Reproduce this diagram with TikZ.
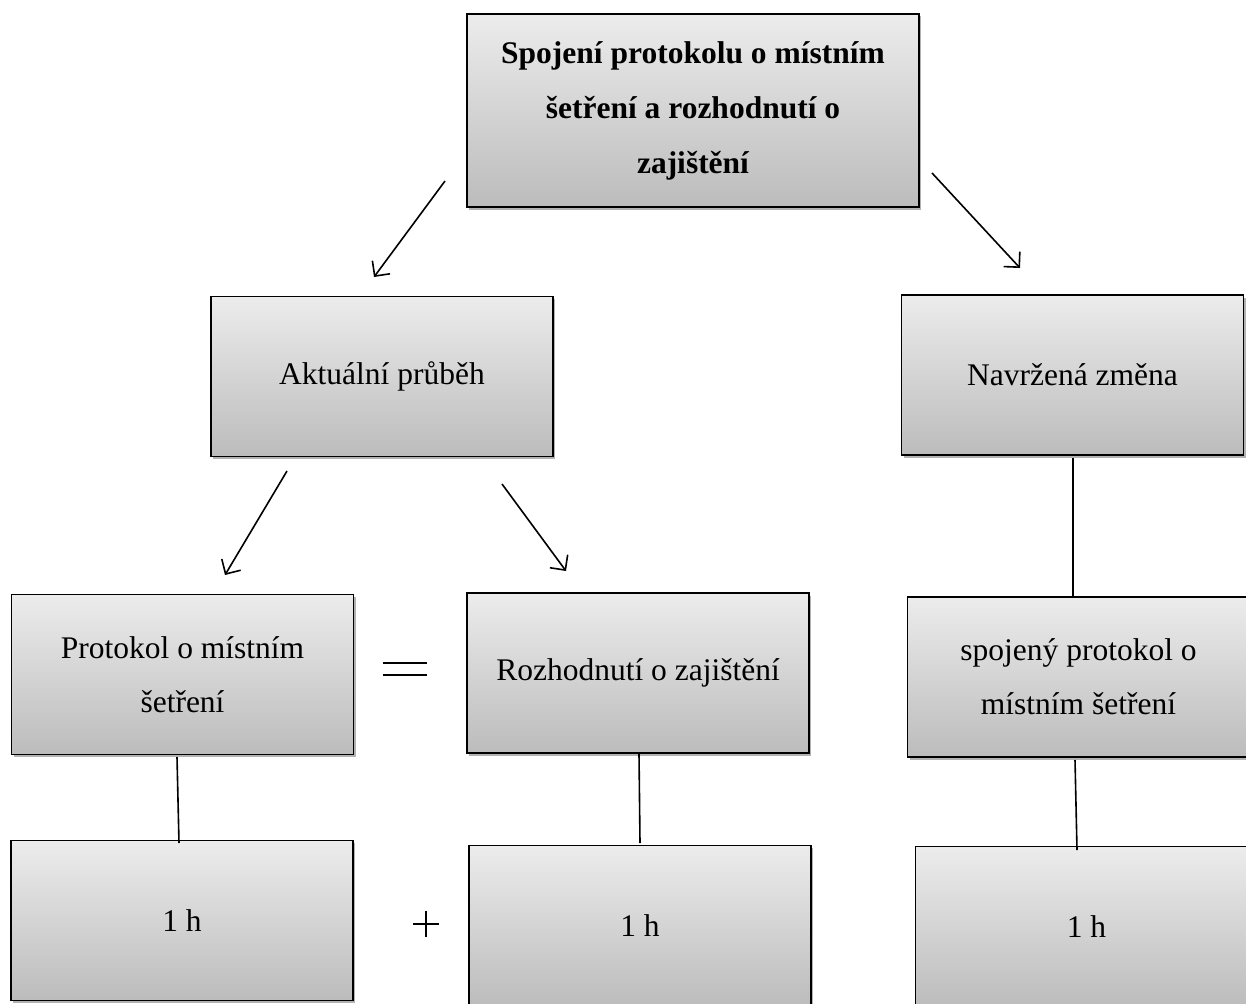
\documentclass[tikz,border=0pt]{standalone}
\usepackage{fontspec}
\setmainfont{Liberation Serif}
\usetikzlibrary{arrows.meta,shadows}
\definecolor{boxtop}{RGB}{236,236,236}
\definecolor{boxbot}{RGB}{188,188,188}
\tikzset{
  box/.style={draw=black, line width=1.6pt, rectangle, top color=boxtop, bottom color=boxbot,
    drop shadow={shadow xshift=2pt, shadow yshift=-2.5pt, opacity=0.3, fill=black},
    align=center, inner sep=0pt,
    font=\fontsize{31.5}{54}\selectfont},
  bw/.style={minimum width=342pt, minimum height=160pt},
  arr/.style={line width=1.6pt, -{Straight Barb[length=11pt,width=22pt,line width=1.6pt]}},
  conn/.style={line width=1.6pt},
  symline/.style={line width=1.8pt}
}
\begin{document}
\begin{tikzpicture}[x=1pt,y=-1pt]
\useasboundingbox (0,0) rectangle (1246,1003);
\fill[white] (0,0) rectangle (1246,1003);
\node[box, minimum width=452pt, minimum height=193pt, font=\fontsize{31.5}{55}\selectfont\bfseries] (top) at (693,110.5)
  {Spojení protokolu o místním\\šetření a rozhodnutí o\\zajištění};
\node[box, bw] (akt) at (382,376.5) {Aktuální průběh};
\node[box, bw] (nav) at (1072.5,375) {Navržená změna};
\node[box, bw] (prot) at (182.5,674.5) {Protokol o místním\\šetření};
\node[box, bw] (rozh) at (638,673) {Rozhodnutí o zajištění};
\node[box, bw] (spoj) at (1078.5,677) {spojený protokol o\\místním šetření};
\node[box, bw] (h1) at (182,920.5) {1 h};
\node[box, bw] (h2) at (640,925.5) {1 h};
\node[box, bw] (h3) at (1086.5,926.5) {1 h};
% equals sign
\coordinate (eq1a) at (383,663); \coordinate (eq1b) at (427,663);
\coordinate (eq2a) at (383,675); \coordinate (eq2b) at (427,675);
\draw[symline] (eq1a) -- (eq1b);
\draw[symline] (eq2a) -- (eq2b);
% plus sign
\coordinate (plh1) at (413,924); \coordinate (plh2) at (439,924);
\coordinate (plv1) at (426,911); \coordinate (plv2) at (426,937);
\draw[symline] (plh1) -- (plh2);
\draw[symline] (plv1) -- (plv2);
% arrow endpoints
\coordinate (a1s) at (445,181);  \coordinate (a1e) at (374,277);
\coordinate (a2s) at (932,173);  \coordinate (a2e) at (1020,268);
\coordinate (a3s) at (287,471);  \coordinate (a3e) at (225,575);
\coordinate (a4s) at (502,484);  \coordinate (a4e) at (566,571);
\draw[arr] (a1s) -- (a1e);
\draw[arr] (a2s) -- (a2e);
\draw[arr] (a3s) -- (a3e);
\draw[arr] (a4s) -- (a4e);
% vertical connectors
\coordinate (c1s) at (1073,458); \coordinate (c1e) at (1073,597);
\coordinate (c2s) at (177,757);  \coordinate (c2e) at (179,843);
\coordinate (c3s) at (639,754);  \coordinate (c3e) at (640,843);
\coordinate (c4s) at (1075,760); \coordinate (c4e) at (1077,850);
\draw[conn] (c1s) -- (c1e);
\draw[conn] (c2s) -- (c2e);
\draw[conn] (c3s) -- (c3e);
\draw[conn] (c4s) -- (c4e);
\end{tikzpicture}
\end{document}
